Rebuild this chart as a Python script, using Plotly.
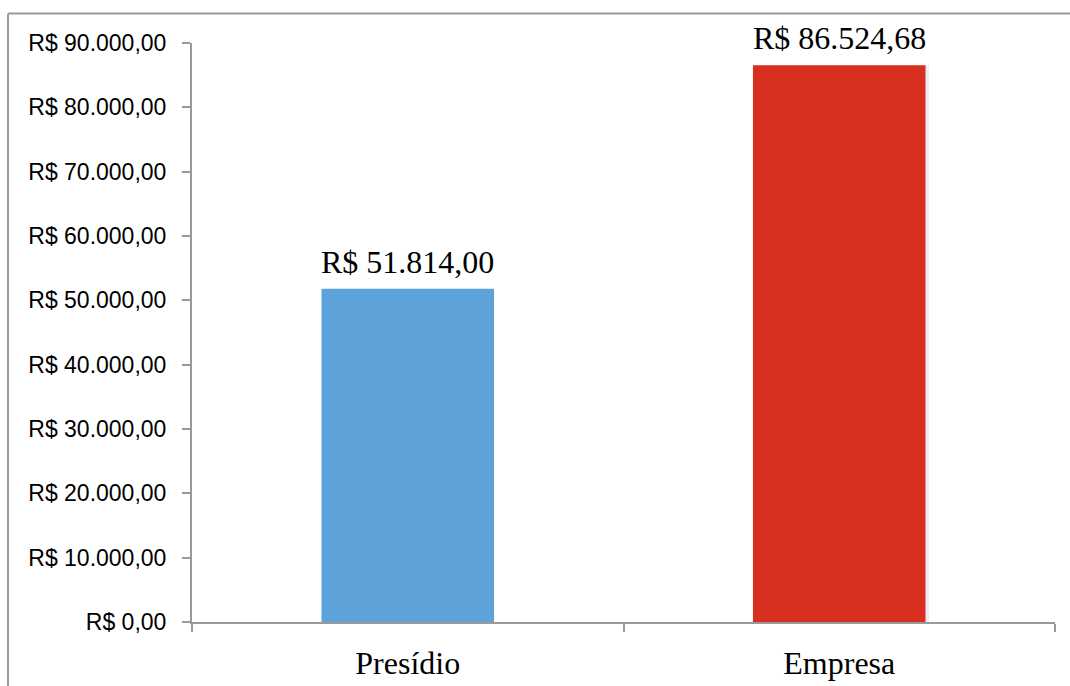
import plotly.graph_objects as go

categories = ["Presídio", "Empresa"]
values = [51814.00, 86524.68]
bar_colors = ["#5DA3D9", "#D92F1F"]
tick_values = [0, 10000, 20000, 30000, 40000, 50000, 60000, 70000, 80000, 90000]


def brl(v):
    s = f"{v:,.2f}"
    return "R$ " + s.replace(",", "_").replace(".", ",").replace("_", ".")


tick_labels = [brl(v) for v in tick_values]
value_labels = [brl(v) for v in values]

fig = go.Figure()
fig.add_trace(go.Bar(
    x=categories,
    y=values,
    marker=dict(color=bar_colors, line=dict(width=0)),
    width=0.4,
))

# value labels above the bars
for cat, val, lab in zip(categories, values, value_labels):
    fig.add_annotation(x=cat, y=val, text=lab, showarrow=False,
                       xanchor="center", yanchor="bottom", yshift=7,
                       font=dict(family="Liberation Serif", size=32, color="#000000"))

# soft glow on the right-hand bar
fig.add_shape(type="rect", xref="x", yref="y", layer="below",
              x0=1.2, x1=1.208, y0=0, y1=values[1],
              fillcolor="rgba(180,210,245,0.35)", line=dict(width=0))

W, H = 1070, 686
ml, mr, mt, mb = 192, 15, 43, 64
pw, ph = W - ml - mr, H - mt - mb
bx = (8 - ml) / pw
by = (H - mb - 13.5) / ph

# chart-area border
fig.add_shape(type="line", xref="paper", yref="paper",
              x0=bx, x1=bx, y0=-0.3, y1=by,
              line=dict(color="#9A9A9A", width=2))
fig.add_shape(type="line", xref="paper", yref="paper",
              x0=bx, x1=1.2, y0=by, y1=by,
              line=dict(color="#9A9A9A", width=2))

fig.update_layout(
    width=W, height=H,
    margin=dict(l=ml, r=mr, t=mt, b=mb, pad=0, autoexpand=False),
    paper_bgcolor="white",
    plot_bgcolor="white",
    showlegend=False,
    bargap=0.6,
)
fig.update_xaxes(
    type="category", automargin=False,
    showline=True, linecolor="#9A9A9A", linewidth=2,
    ticks="outside", tickson="boundaries", ticklen=8, tickwidth=2, tickcolor="#9A9A9A",
    tickfont=dict(family="Liberation Serif", size=32, color="#000000"),
    ticklabelstandoff=12,
    showgrid=False,
)
fig.update_yaxes(
    range=[0, 90000], automargin=False,
    tickvals=tick_values, ticktext=tick_labels,
    showline=True, linecolor="#9A9A9A", linewidth=2,
    ticks="outside", ticklen=8, tickwidth=1.5, tickcolor="#9A9A9A",
    tickfont=dict(family="Liberation Sans", size=23, color="#000000"),
    ticklabelstandoff=11,
    showgrid=False, zeroline=False,
)

fig.write_html("out.html")
